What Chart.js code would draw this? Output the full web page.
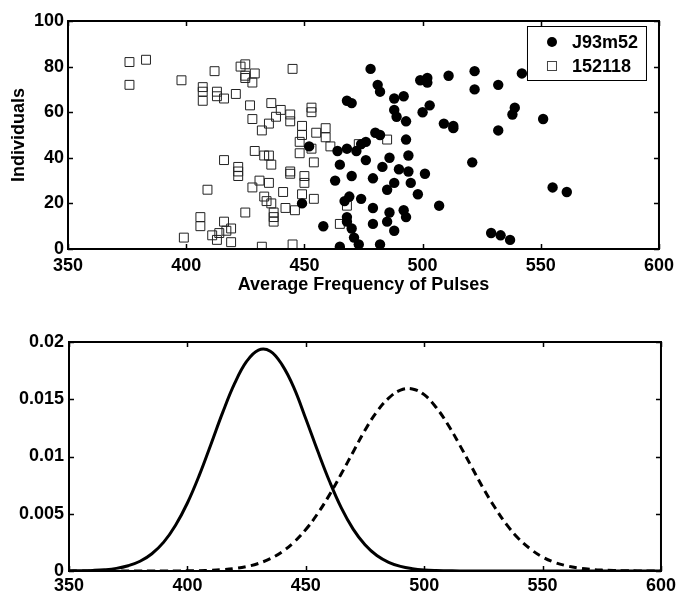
<!DOCTYPE html>
<html>
<head>
<meta charset="utf-8">
<script src="https://cdn.jsdelivr.net/npm/chart.js@4.4.1/dist/chart.umd.min.js"></script>
<style>
  html, body { margin: 0; padding: 0; background: #fff; }
  #wrap { position: relative; width: 680px; height: 594px; }
  canvas { position: absolute; left: 0; }
  #scatter { top: 0; }
  #density { top: 300px; }
</style>
</head>
<body>
<div id="wrap">
  <canvas id="scatter" width="680" height="300"></canvas>
  <canvas id="density" width="680" height="294"></canvas>
</div>
<script>
// --- top panel: individuals vs average pulse frequency ---
const j93X = [452, 449, 458, 464, 465, 463, 465, 478, 481, 482, 468, 470, 499, 502, 502, 511, 522, 522, 532, 542,
  488, 492, 488, 489, 493, 500, 503, 509, 513, 513, 539, 538, 551, 532, 480, 482, 493, 476, 474, 472,
  468, 494, 476, 486, 483, 490, 494, 501, 470, 479, 488, 485, 495, 498, 521, 555, 561, 507, 469, 467,
  474, 479, 486, 492, 493, 485, 479, 468, 468, 470, 488, 471, 473, 482, 529, 533, 537];
const j93Y = [45, 20, 10, 43, 37, 30, 1, 79, 72, 69, 65, 64, 74, 75, 73, 76, 78, 70, 72, 77,
  66, 67, 61, 58, 56, 60, 63, 55, 54, 53, 62, 59, 57, 52, 51, 50, 48, 47, 46, 43,
  44, 41, 39, 40, 36, 35, 34, 33, 32, 31, 29, 26, 29, 24, 38, 27, 25, 19, 23, 21,
  22, 18, 16, 17, 14, 12, 11, 14, 12, 9, 8, 5, 2, 2, 7, 6, 4];

const b152X = [376, 383, 376, 398, 407, 407, 407, 412, 413, 413, 416, 423, 425, 425, 425, 429, 428, 421, 427, 428,
  432, 436, 435, 438, 440, 444, 444, 445, 453, 453, 449, 449, 448, 455, 459, 459, 461, 448, 453, 454,
  429, 433, 435, 436, 416, 422, 422, 422, 431, 435, 428, 444, 444, 450, 450, 449, 441, 454, 433, 434,
  436, 437, 437, 437, 442, 446, 425, 409, 406, 406, 399, 411, 413, 414, 416, 417, 419, 419, 432, 445,
  465, 468, 485, 473];
const b152Y = [82, 83, 72, 74, 71, 69, 65, 78, 69, 67, 66, 80, 81, 76, 75, 77, 73, 68, 63, 57,
  52, 64, 55, 58, 61, 59, 56, 79, 62, 60, 54, 50, 47, 51, 53, 49, 45, 42, 44, 38,
  43, 41, 41, 37, 39, 36, 34, 32, 30, 29, 27, 34, 33, 32, 29, 24, 25, 22, 23, 21,
  20, 16, 14, 12, 18, 17, 16, 26, 14, 10, 5, 6, 4, 7, 12, 8, 9, 3, 1, 2,
  11, 19, 48, 46];

const scatterXTicks = [350, 400, 450, 500, 550, 600];
const scatterYTicks = [0, 20, 40, 60, 80, 100];

// --- bottom panel: fitted densities ---
const freq = [350, 355, 360, 365, 370, 375, 380, 385, 390, 395, 400, 405, 410, 415, 420, 425, 430, 435, 440, 445,
  450, 455, 460, 465, 470, 475, 480, 485, 490, 495, 500, 505, 510, 515, 520, 525, 530, 535, 540, 545,
  550, 555, 560, 565, 570, 575, 580, 585, 590, 595, 600];
const densitySolid = [0.00001, 0.00002, 0.00005, 0.00011, 0.00023, 0.00046, 0.00085, 0.00151, 0.00252, 0.0040,
  0.00594, 0.00835, 0.0111, 0.0139, 0.0164, 0.0183, 0.0193, 0.0192, 0.0180, 0.0160,
  0.0133, 0.0105, 0.00784, 0.00551, 0.00366, 0.00229, 0.00135, 0.00076, 0.0004, 0.0002,
  0.00009, 0.00004, 0.00002, 0, 0, 0, 0, 0, 0, 0,
  0, 0, 0, 0, 0, 0, 0, 0, 0, 0, 0];
const densityDashed = [0, 0, 0, 0, 0, 0, 0, 0, 0, 0,
  0.00002, 0.00003, 0.00006, 0.00012, 0.00022, 0.00039, 0.00066, 0.00108, 0.00168, 0.00252,
  0.00362, 0.00501, 0.00665, 0.00849, 0.0104, 0.0123, 0.0139, 0.0151, 0.0158, 0.0159,
  0.0154, 0.0143, 0.0128, 0.0110, 0.0091, 0.0072, 0.0055, 0.0040, 0.0028, 0.0019,
  0.00122, 0.00076, 0.00046, 0.00027, 0.00015, 0.00008, 0.00004, 0.00002, 0.00001, 0, 0];
const densityXTicks = [350, 400, 450, 500, 550, 600];
const densityYTicks = [0, 0.005, 0.01, 0.015, 0.02];

const FONT = 'Liberation Sans, Arial, Helvetica, sans-serif';
Chart.defaults.font.family = FONT;
Chart.defaults.font.weight = 'bold';
Chart.defaults.font.size = 18;
Chart.defaults.color = '#000';

const toPoints = (xs, ys) => xs.map((x, i) => ({ x: x, y: ys[i] }));

// matlab-like box with inward tick marks on all four sides
const boxPlugin = {
  id: 'box',
  afterDraw(chart) {
    const { ctx, chartArea: a, scales } = chart;
    ctx.save();
    ctx.strokeStyle = '#000';
    ctx.lineWidth = 1.5;
    ctx.beginPath();
    scales.x.ticks.forEach(t => {
      const px = Math.round(scales.x.getPixelForValue(t.value)) + 0.5;
      ctx.moveTo(px, a.bottom); ctx.lineTo(px, a.bottom - 5);
      ctx.moveTo(px, a.top); ctx.lineTo(px, a.top + 5);
    });
    scales.y.ticks.forEach(t => {
      const py = Math.round(scales.y.getPixelForValue(t.value)) + 0.5;
      ctx.moveTo(a.left, py); ctx.lineTo(a.left + 5, py);
      ctx.moveTo(a.right, py); ctx.lineTo(a.right - 5, py);
    });
    ctx.stroke();
    ctx.lineWidth = 2;
    ctx.strokeRect(a.left, a.top, a.right - a.left, a.bottom - a.top);
    ctx.restore();
  }
};

// legend drawn inside the top-right corner of the scatter panel
const cornerLegend = {
  id: 'cornerLegend',
  afterDraw(chart) {
    const { ctx, chartArea: a } = chart;
    const w = 119, h = 54;
    const x0 = a.right - 13 - w, y0 = a.top + 5;
    ctx.save();
    ctx.fillStyle = '#fff';
    ctx.fillRect(x0, y0, w, h);
    ctx.strokeStyle = '#000';
    ctx.lineWidth = 1;
    ctx.strokeRect(x0 + 0.5, y0 + 0.5, w, h);
    chart.data.datasets.forEach((ds, i) => {
      const cy = y0 + 16 + i * 24;
      const cx = x0 + 25;
      if (ds.pointStyle === 'circle') {
        ctx.fillStyle = '#000';
        ctx.beginPath();
        ctx.arc(cx, cy, 5, 0, Math.PI * 2);
        ctx.fill();
      } else {
        ctx.strokeStyle = '#444';
        ctx.lineWidth = 1;
        ctx.strokeRect(cx - 4.5, cy - 4.5, 9, 9);
      }
      ctx.fillStyle = '#000';
      ctx.font = 'bold 18px ' + FONT;
      ctx.textBaseline = 'middle';
      ctx.fillText(ds.label, x0 + 45, cy + 1);
    });
    ctx.restore();
  }
};

new Chart(document.getElementById('scatter'), {
  type: 'scatter',
  data: {
    datasets: [
      {
        label: 'J93m52',
        data: toPoints(j93X, j93Y),
        pointStyle: 'circle',
        pointRadius: 5.2,
        backgroundColor: '#000',
        borderColor: '#000',
        borderWidth: 0
      },
      {
        label: '152118',
        data: toPoints(b152X, b152Y),
        pointStyle: 'rect',
        pointRadius: 6.3,
        backgroundColor: 'rgba(0,0,0,0)',
        borderColor: '#222',
        borderWidth: 1
      }
    ]
  },
  options: {
    responsive: false,
    animation: false,
    layout: { padding: { top: 21, right: 17, bottom: 0, left: 0 } },
    plugins: { legend: { display: false }, tooltip: { enabled: false } },
    scales: {
      x: {
        type: 'linear', min: 350, max: 600,
        afterFit: s => { s.height = 51; },
        afterBuildTicks: s => { s.ticks = scatterXTicks.map(v => ({ value: v })); },
        grid: { display: false, drawTicks: false },
        border: { display: false },
        ticks: { padding: 6 },
        title: { display: true, text: 'Average Frequency of Pulses', font: { size: 18, weight: 'bold' }, padding: { top: 0, bottom: 4 } }
      },
      y: {
        min: 0, max: 100,
        afterFit: s => { s.width = 68; },
        afterBuildTicks: s => { s.ticks = scatterYTicks.map(v => ({ value: v })); },
        grid: { display: false, drawTicks: false },
        border: { display: false },
        ticks: { padding: 4 },
        title: { display: true, text: 'Individuals', font: { size: 18, weight: 'bold' }, padding: { top: 8, bottom: 0 } }
      }
    }
  },
  plugins: [boxPlugin, cornerLegend]
});

new Chart(document.getElementById('density'), {
  type: 'line',
  data: {
    datasets: [
      {
        label: 'solid',
        data: toPoints(freq, densitySolid),
        borderColor: '#000',
        borderWidth: 3,
        pointRadius: 0,
        tension: 0.4,
        fill: false
      },
      {
        label: 'dashed',
        data: toPoints(freq, densityDashed),
        borderColor: '#000',
        borderWidth: 3,
        borderDash: [8, 5],
        pointRadius: 0,
        tension: 0.4,
        fill: false
      }
    ]
  },
  options: {
    responsive: false,
    animation: false,
    layout: { padding: { top: 42, right: 15, bottom: 0, left: 0 } },
    plugins: { legend: { display: false }, tooltip: { enabled: false } },
    scales: {
      x: {
        type: 'linear', min: 350, max: 600,
        afterFit: s => { s.height = 23; },
        afterBuildTicks: s => { s.ticks = densityXTicks.map(v => ({ value: v })); },
        grid: { display: false, drawTicks: false },
        border: { display: false },
        ticks: { padding: 4 }
      },
      y: {
        min: 0, max: 0.02,
        afterFit: s => { s.width = 69; },
        afterBuildTicks: s => { s.ticks = densityYTicks.map(v => ({ value: v })); },
        grid: { display: false, drawTicks: false },
        border: { display: false },
        ticks: { padding: 5, callback: v => String(+Number(v).toFixed(3)) }
      }
    }
  },
  plugins: [boxPlugin]
});
</script>
</body>
</html>
